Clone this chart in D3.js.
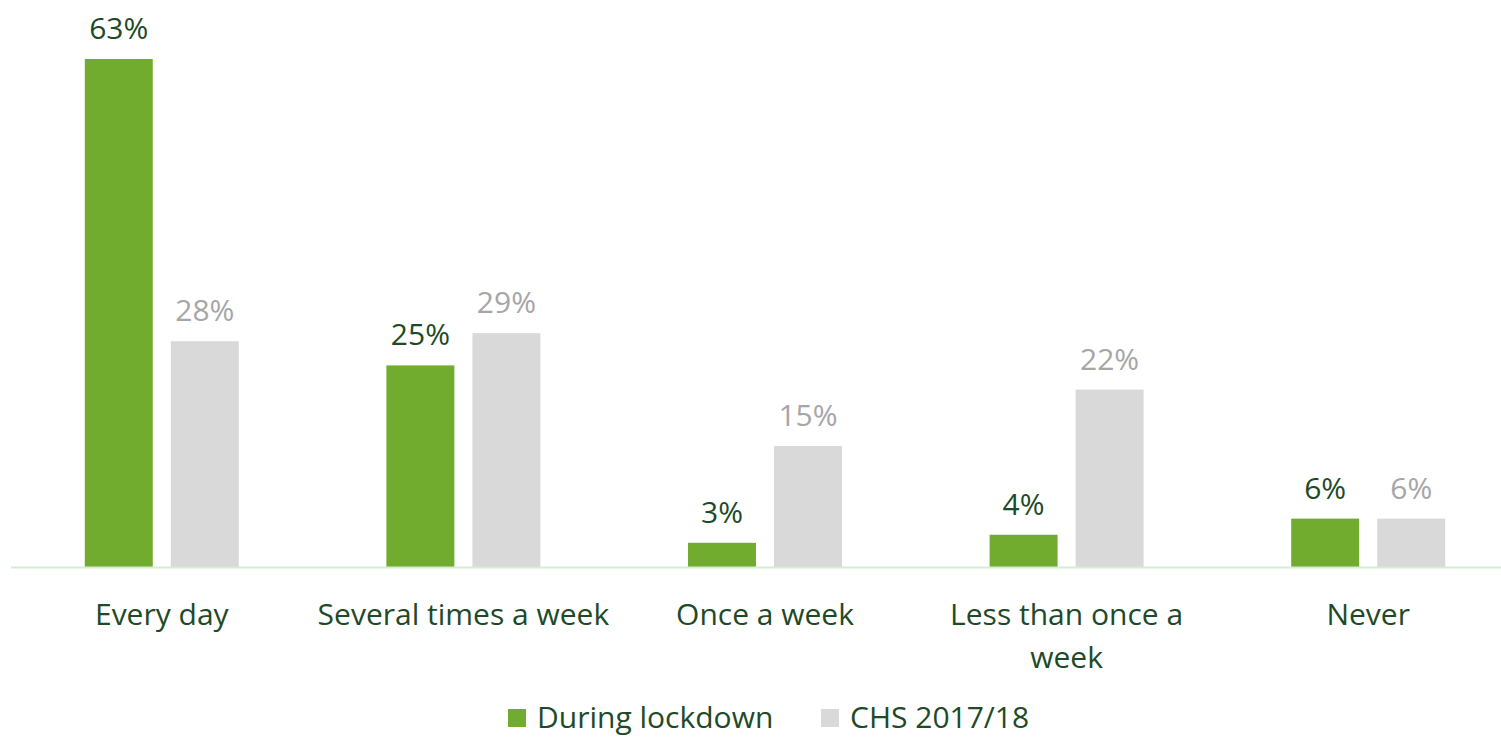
<!DOCTYPE html>
<html>
<head>
<meta charset="utf-8">
<script src="https://cdn.jsdelivr.net/npm/d3@7"></script>
<style>
  html, body { margin: 0; padding: 0; background: #fff; }
  svg { display: block; }
  text { font-family: "Open Sans", "Noto Sans", sans-serif; }
</style>
</head>
<body>
<svg id="chart" width="1501" height="739"></svg>
<script>
// Frequency categories
const categories = [
  ["Every day"],
  ["Several times a week"],
  ["Once a week"],
  ["Less than once a", "week"],
  ["Never"]
];
// Series values (percent)
const lockdown = [63, 25, 3, 4, 6];
const chs = [28, 29, 15, 22, 6];
const seriesNames = ["During lockdown", "CHS 2017/18"];

const colors = { lockdown: "#72ac2f", chs: "#d9d9d9" };
const textDark = "#1e4a28";
const textGray = "#a6a6a6";
const fontSize = 30;

const svg = d3.select("#chart");
const baseline = 567;

const x = d3.scaleBand()
  .domain(d3.range(categories.length))
  .range([11, 1519])
  .paddingInner(0)
  .paddingOuter(0);

const inner = d3.scaleBand()
  .domain(["lockdown", "chs"])
  .range([73.8, x.bandwidth() - 73.8])
  .paddingInner(0.21);

const y = d3.scaleLinear().domain([0, 63]).range([baseline, 59]);

const data = categories.map((c, i) => ({
  i, label: c,
  vals: [{ key: "lockdown", v: lockdown[i] }, { key: "chs", v: chs[i] }]
}));

const groups = svg.selectAll("g.grp").data(data).join("g")
  .attr("class", "grp")
  .attr("transform", d => `translate(${x(d.i)},0)`);

groups.selectAll("rect").data(d => d.vals).join("rect")
  .attr("x", d => inner(d.key))
  .attr("y", d => y(d.v))
  .attr("width", inner.bandwidth())
  .attr("height", d => baseline - y(d.v))
  .attr("fill", d => colors[d.key]);

groups.selectAll("text.val").data(d => d.vals).join("text")
  .attr("class", "val")
  .attr("x", d => inner(d.key) + inner.bandwidth() / 2)
  .attr("y", d => y(d.v) - 20)
  .attr("text-anchor", "middle")
  .attr("font-size", fontSize)
  .attr("fill", d => d.key === "lockdown" ? textDark : textGray)
  .text(d => d.v + "%");

// Category axis line
svg.append("line")
  .attr("x1", 11).attr("x2", 1519)
  .attr("y1", baseline + 0.5).attr("y2", baseline + 0.5)
  .attr("stroke", "#d3eed6").attr("stroke-width", 2);

// Category labels (wrapped)
groups.each(function(d) {
  const t = d3.select(this).append("text")
    .attr("text-anchor", "middle")
    .attr("font-size", fontSize)
    .attr("fill", textDark);
  d.label.forEach((line, k) => {
    t.append("tspan")
      .attr("x", x.bandwidth() / 2)
      .attr("y", 625 + k * 43)
      .text(line);
  });
});

// Legend
const legend = svg.append("g");
const legendItems = [
  { name: seriesNames[0], color: colors.lockdown, x: 508 },
  { name: seriesNames[1], color: colors.chs, x: 821 }
];
legendItems.forEach(it => {
  legend.append("rect")
    .attr("x", it.x).attr("y", 709)
    .attr("width", 18).attr("height", 18)
    .attr("fill", it.color);
  legend.append("text")
    .attr("x", it.x + 29).attr("y", 728)
    .attr("font-size", fontSize)
    .attr("fill", textDark)
    .text(it.name);
});
</script>
</body>
</html>
